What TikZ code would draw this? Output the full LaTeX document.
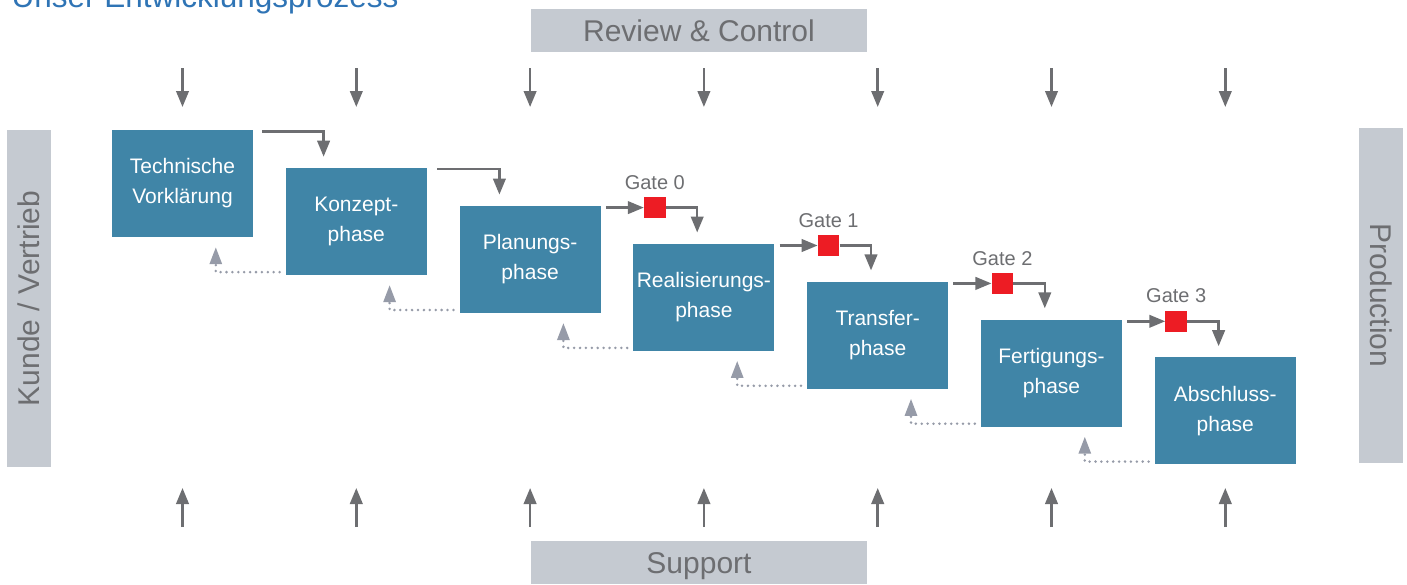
\documentclass[tikz,border=0pt]{standalone}
\usepackage{fontspec}
\setmainfont{Liberation Sans}
\usetikzlibrary{arrows.meta}
\definecolor{phaseblue}{RGB}{64,133,167}
\definecolor{bargray}{RGB}{197,202,209}
\definecolor{textgray}{RGB}{109,110,113}
\definecolor{gatered}{RGB}{237,28,36}
\definecolor{backgray}{RGB}{150,155,168}
\definecolor{titleblue}{RGB}{47,116,181}

\begin{document}
\begin{tikzpicture}[x=1pt,y=-1pt,
  phase/.style={fill=phaseblue,text=white,minimum width=141pt,minimum height=107pt,
    inner sep=0pt,align=center,font=\fontsize{21}{30}\selectfont},
  bar/.style={fill=bargray,text=textgray,inner sep=0pt,text height=21.5pt,text depth=0pt,
    font=\fontsize{30}{30}\selectfont},
  gate/.style={fill=gatered,minimum size=21.5pt,inner sep=0pt},
  gatelabel/.style={text=textgray,inner sep=0pt,font=\fontsize{20}{20}\selectfont},
  flow/.style={draw=textgray,line width=2.5pt,-{Triangle[width=12.5pt,length=16pt]}},
  back/.style={draw=backgray,line width=2.8pt,line cap=round,dash pattern=on 0pt off 5.9pt,
    -{Triangle[width=12pt,length=17pt]}}]
  \useasboundingbox (0,0) rectangle (1407,584);
  \node[anchor=base west,text=titleblue,font=\fontsize{31.5}{31.5}\selectfont] (title) at (8,7) {Unser Entwicklungsprozess};

  \node[bar,minimum width=336pt,minimum height=43pt] (review) at (699,30.5) {Review \& Control};
  \node[bar,minimum width=336pt,minimum height=43pt] (support) at (699,562.5) {Support};
  \node[bar,rotate=90,minimum width=337pt,minimum height=44pt] (kunde) at (29,298.5) {Kunde / Vertrieb};
  \node[bar,rotate=-90,minimum width=335pt,minimum height=44pt] (prod) at (1381,295.5) {Production};

  \foreach \i/\name in {1/{Technische\\Vorklärung},2/{Konzept-\\phase},3/{Planungs-\\phase},
      4/{Realisierungs-\\phase},5/{Transfer-\\phase},6/{Fertigungs-\\phase},7/{Abschluss-\\phase}}
    \node[phase] (p\i) at ({182.5+(\i-1)*173.8},{183.5+(\i-1)*37.9}) {\name};

  \coordinate (rctop) at (0,68);
  \coordinate (sptop) at (0,527);
  \foreach \i in {1,...,7} {
    \draw[flow] (rctop -| p\i) -- ++(0,39);
    \draw[flow] (sptop -| p\i) -- ++(0,-39);
  }

  \draw[flow] ([xshift=9pt,yshift=-1.5pt]p1.north east) -| ([xshift=38pt,yshift=11pt]p2.north west);
  \draw[flow] ([xshift=10pt,yshift=-1.5pt]p2.north east) -| ([xshift=40pt,yshift=11pt]p3.north west);

  \foreach \g/\i/\j in {0/3/4,1/4/5,2/5/6,3/6/7} {
    \node[gate,label={[gatelabel,label distance=7pt]above:Gate \g}] (g\g) at ([xshift=54pt,yshift=-2pt]p\i.north east) {};
    \draw[flow] ([xshift=5pt,yshift=-2pt]p\i.north east) -- (g\g);
    \draw[flow] (g\g) -| ([xshift=64pt,yshift=11pt]p\j.north west);
  }

  \foreach \i/\j in {2/1,3/2,4/3,5/4,6/5,7/6}
    \draw[back] ([xshift=-6pt,yshift=3pt]p\i.south west) -| ([xshift=104pt,yshift=-10pt]p\j.south west);
\end{tikzpicture}
\end{document}
